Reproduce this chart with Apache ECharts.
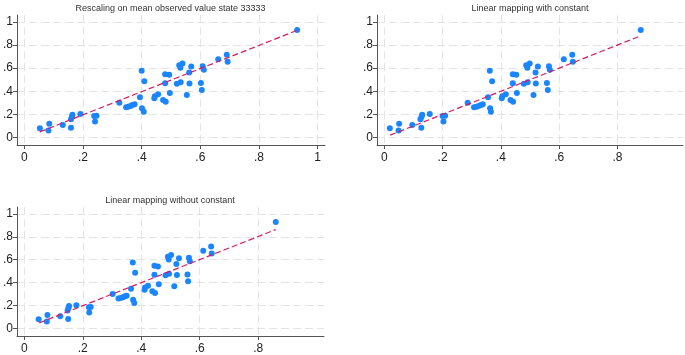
<!DOCTYPE html>
<html>
<head>
<meta charset="utf-8">
<script src="https://cdn.jsdelivr.net/npm/echarts@6/dist/echarts.min.js"></script>
<style>
  html, body { margin: 0; padding: 0; background: #fff; }
  #main { width: 685px; height: 355px; }
</style>
</head>
<body>
<div id="main"></div>
<script>
// observed value (same for every panel)
var yObs = [0.081, 0.061, 0.119, 0.107, 0.084, 0.157, 0.180, 0.197, 0.203, 0.186,
  0.139, 0.188, 0.301, 0.261, 0.267, 0.272, 0.281, 0.287, 0.348, 0.577,
  0.252, 0.223, 0.487, 0.339, 0.357, 0.374, 0.325, 0.310, 0.470, 0.548,
  0.542, 0.386, 0.464, 0.626, 0.603, 0.641, 0.478, 0.368, 0.562, 0.467,
  0.614, 0.472, 0.412, 0.617, 0.586, 0.678, 0.716, 0.655, 0.930]

// predicted value, one array per method
var xRescale = [0.053, 0.082, 0.085, 0.131, 0.159, 0.159, 0.162, 0.164, 0.191, 0.238,
  0.241, 0.246, 0.324, 0.347, 0.354, 0.362, 0.368, 0.376, 0.394, 0.400,
  0.401, 0.407, 0.409, 0.443, 0.445, 0.456, 0.473, 0.482, 0.480, 0.480,
  0.494, 0.496, 0.520, 0.528, 0.532, 0.539, 0.533, 0.554, 0.562, 0.563,
  0.569, 0.602, 0.605, 0.608, 0.612, 0.661, 0.690, 0.693, 0.930]
var xWithConst = [0.019, 0.049, 0.051, 0.096, 0.127, 0.124, 0.128, 0.130, 0.156, 0.200,
  0.203, 0.209, 0.286, 0.308, 0.316, 0.324, 0.331, 0.338, 0.356, 0.362,
  0.363, 0.366, 0.370, 0.403, 0.405, 0.417, 0.433, 0.442, 0.441, 0.441,
  0.453, 0.455, 0.479, 0.487, 0.491, 0.499, 0.492, 0.512, 0.519, 0.520,
  0.527, 0.558, 0.561, 0.565, 0.568, 0.616, 0.645, 0.647, 0.880]
var xNoConst = [0.049, 0.077, 0.079, 0.123, 0.150, 0.148, 0.151, 0.153, 0.178, 0.221,
  0.222, 0.227, 0.302, 0.322, 0.329, 0.337, 0.344, 0.350, 0.365, 0.371,
  0.372, 0.376, 0.379, 0.411, 0.413, 0.423, 0.438, 0.447, 0.445, 0.445,
  0.457, 0.460, 0.483, 0.491, 0.494, 0.502, 0.495, 0.513, 0.520, 0.522,
  0.529, 0.558, 0.560, 0.563, 0.566, 0.612, 0.639, 0.641, 0.860]

// dashed fitted lines (endpoints)
var fitRescaleX = [0.053, 0.930]
var fitRescaleY = [0.049, 0.927]
var fitWithConstX = [0.020, 0.880]
var fitWithConstY = [0.020, 0.880]
var fitNoConstX = [0.051, 0.860]
var fitNoConstY = [0.049, 0.863]

var titles = ['Rescaling on mean observed value state 33333', 'Linear mapping with constant', 'Linear mapping without constant']
var xTicks = [[0, 0.2, 0.4, 0.6, 0.8, 1], [0, 0.2, 0.4, 0.6, 0.8], [0, 0.2, 0.4, 0.6, 0.8]]
var yTicks = [0, 0.2, 0.4, 0.6, 0.8, 1]

var FONT = 'Liberation Sans'
var panels = [
  {x: xRescale, fx: fitRescaleX, fy: fitRescaleY, left: 16, top: 15, width: 309, height: 130},
  {x: xWithConst, fx: fitWithConstX, fy: fitWithConstY, left: 377, top: 15, width: 306, height: 130},
  {x: xNoConst, fx: fitNoConstX, fy: fitNoConstY, left: 16, top: 207, width: 308, height: 130}
]

function fmt (v) {
  if (v === 0) return '0'
  if (v === 1) return '1'
  return String(v).replace('0.', '.')
}

function zip (a, b) {
  return a.map(function (v, i) { return [v, b[i]] })
}

var grids = []
var xAxes = []
var yAxes = []
var series = []
var graphics = []

panels.forEach(function (p, i) {
  grids.push({left: p.left, top: p.top, width: p.width, height: p.height, containLabel: false})
  xAxes.push({
    type: 'value',
    gridIndex: i,
    min: -0.025,
    max: 1.025,
    axisLine: {show: true, onZero: false, lineStyle: {color: '#555', width: 1}},
    axisTick: {show: true, inside: false, length: 4, customValues: xTicks[i], lineStyle: {color: '#555'}},
    axisLabel: {customValues: xTicks[i], formatter: fmt, color: '#222', fontFamily: FONT, fontSize: 12, margin: 7},
    splitLine: {show: true, lineStyle: {color: '#e4e4e4', type: [8, 4], width: 1}}
  })
  yAxes.push({
    type: 'value',
    gridIndex: i,
    min: -0.065,
    max: 1.06,
    axisLine: {show: true, onZero: false, lineStyle: {color: '#555', width: 1}},
    axisTick: {show: true, inside: false, length: 4, customValues: yTicks, lineStyle: {color: '#555'}},
    axisLabel: {customValues: yTicks, formatter: fmt, color: '#222', fontFamily: FONT, fontSize: 12, margin: 4},
    splitLine: {show: true, lineStyle: {color: '#e4e4e4', type: [8, 4], width: 1}}
  })
  series.push({
    type: 'scatter',
    xAxisIndex: i,
    yAxisIndex: i,
    data: zip(p.x, yObs),
    symbolSize: 6,
    itemStyle: {color: '#1a85ff', opacity: 1},
    z: 3
  })
  series.push({
    type: 'line',
    xAxisIndex: i,
    yAxisIndex: i,
    data: zip(p.fx, p.fy),
    showSymbol: false,
    lineStyle: {color: '#d81b60', width: 1.2, type: [6, 3]},
    z: 4
  })
  graphics.push({
    type: 'text',
    x: p.left + p.width / 2,
    y: p.top - 6,
    style: {text: titles[i], fill: '#333', font: '9px "' + FONT + '"', textAlign: 'center', textVerticalAlign: 'middle'}
  })
})

var chart = echarts.init(document.getElementById('main'), null, {renderer: 'canvas'})
chart.setOption({
  backgroundColor: '#fff',
  animation: false,
  grid: grids,
  xAxis: xAxes,
  yAxis: yAxes,
  series: series,
  graphic: graphics
})
</script>
</body>
</html>
